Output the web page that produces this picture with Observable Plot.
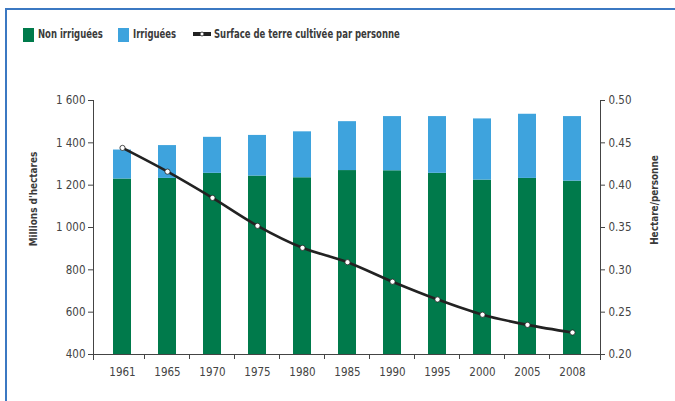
<!DOCTYPE html>
<html>
<head>
<meta charset="utf-8">
<script src="https://cdn.jsdelivr.net/npm/d3@7"></script>
<script src="https://cdn.jsdelivr.net/npm/@observablehq/plot@0.6"></script>
<style>
  html, body { margin: 0; padding: 0; background: #fff; }
  #wrap { position: relative; width: 675px; height: 401px; overflow: hidden; font-family: "DejaVu Sans", sans-serif; font-stretch: condensed; }
  #border { position: absolute; left: 5px; top: 8px; right: -5px; bottom: -5px; border-top: 2px solid #3b78c2; border-left: 2px solid #3b78c2; }
  #legend { position: absolute; left: 0; top: 0; width: 675px; height: 55px; }
  .lg { position: absolute; top: 27px; font-size: 11.5px; font-weight: bold; color: #3a3a3a; line-height: 14px; white-space: nowrap; font-stretch: condensed; transform: scaleX(0.82); transform-origin: 0 50%; }
  .sw { position: absolute; top: 28px; width: 11px; height: 14px; }
  .ax { position: absolute; font-size: 11px; font-weight: bold; color: #3a3a3a; white-space: nowrap; font-stretch: condensed; line-height: 12px; transform: translate(-50%, -50%) rotate(-90deg) scaleX(0.9); }
  #chart { position: absolute; left: 0; top: 55px; }
  #chart svg text { font-stretch: condensed; }
</style>
</head>
<body>
<div id="wrap">
  <div id="border"></div>
  <div id="legend"></div>
  <div id="chart"></div>
</div>
<script>
const years = ["1961","1965","1970","1975","1980","1985","1990","1995","2000","2005","2008"];
const nonIrrigated = [1229, 1232, 1256, 1243, 1235, 1269, 1268, 1256, 1224, 1232, 1219];
const irrigated    = [137, 155, 170, 192, 217, 231, 256, 268, 289, 303, 305];
const haPerPerson  = [0.444, 0.416, 0.385, 0.352, 0.326, 0.309, 0.286, 0.265, 0.247, 0.235, 0.226];
const leftTicks  = [400, 600, 800, 1000, 1200, 1400, 1600];
const rightTicks = [0.20, 0.25, 0.30, 0.35, 0.40, 0.45, 0.50];
const seriesNames = ["Non irriguées", "Irriguées"];
const lineName = "Surface de terre cultivée par personne";
const leftLabel = "Millions d'hectares";
const rightLabel = "Hectare/personne";
const colors = ["#007a4b", "#3ea3dd"];
const yMin = 400;

// right axis maps [0.20, 0.50] onto left [400, 1600]
const toLeft = h => 400 + (h - 0.2) * 4000;
const fromLeft = v => (v - 400) / 4000 + 0.2;

const bars = years.map((y, i) => ({year: y, non: nonIrrigated[i], tot: nonIrrigated[i] + irrigated[i]}));
const linePts = years.map((y, i) => ({year: y, v: toLeft(haPerPerson[i])}));

const W = 675, H = 346, ML = 93, MR = 75, MT = 45, MB = 47;
const pI = 0.6, pO = 0.35;
const fmt = v => d3.format(",")(v).replace(/,/g, " ");
const font = "DejaVu Sans, sans-serif";

// legend + axis titles
const legend = document.getElementById("legend");
legend.innerHTML = `
  <div class="sw" style="left:23px;background:${colors[0]}"></div>
  <div class="lg" style="left:38px">${seriesNames[0]}</div>
  <div class="sw" style="left:118px;background:${colors[1]}"></div>
  <div class="lg" style="left:133px">${seriesNames[1]}</div>
  <svg style="position:absolute;left:192px;top:29px" width="20" height="10"><line x1="1" y1="5" x2="19" y2="5" stroke="#222" stroke-width="4"/><circle cx="10" cy="5" r="2" fill="#fff" stroke="#222" stroke-width="0.8"/></svg>
  <div class="lg" style="left:214px">${lineName}</div>`;
const wrap = document.getElementById("wrap");
wrap.insertAdjacentHTML("beforeend",
  `<div class="ax" style="left:34px;top:199px">${leftLabel}</div>
   <div class="ax" style="left:655px;top:200px">${rightLabel}</div>`);

const plot = Plot.plot({
  width: W, height: H,
  marginLeft: ML, marginRight: MR, marginTop: MT, marginBottom: MB,
  style: {fontFamily: font, fontSize: "11.5px", color: "#444", background: "transparent", overflow: "visible"},
  x: {domain: years, paddingInner: pI, paddingOuter: pO, align: 0.5},
  y: {domain: [yMin, 1600], ticks: leftTicks},
  marks: [
    Plot.barY(bars, {x: "year", y1: yMin, y2: "non", fill: colors[0]}),
    Plot.barY(bars, {x: "year", y1: "non", y2: "tot", fill: colors[1]}),
    Plot.frame({anchor: "left", stroke: "#444", insetBottom: -5}),
    Plot.frame({anchor: "right", stroke: "#444", insetBottom: -5}),
    Plot.frame({anchor: "bottom", stroke: "#444", insetRight: -3}),
    Plot.axisY({anchor: "left", ticks: leftTicks, tickFormat: fmt, tickSize: 5, tickPadding: 3, label: null}),
    Plot.axisY({anchor: "right", ticks: rightTicks.map(toLeft), tickFormat: v => fromLeft(v).toFixed(2), tickSize: 4, tickPadding: 4, label: null}),
    Plot.axisX({tickSize: 0, tickPadding: 13, label: null}),
    Plot.line(linePts, {x: "year", y: "v", stroke: "#222", strokeWidth: 2.6, curve: "catmull-rom"}),
    Plot.dot(linePts, {x: "year", y: "v", r: 2.6, fill: "#fff", stroke: "#222", strokeWidth: 0.8})
  ]
});
document.getElementById("chart").appendChild(plot);

// small ticks between year bands, positioned from Plot's own x and y scales
const sx = plot.scale("x"), sy = plot.scale("y");
const bw = sx.bandwidth, gap = (sx.step ?? (bw / (1 - pI))) - bw;
const y0 = sy.apply(yMin);
d3.select(plot).append("g").attr("stroke", "#444")
  .selectAll("line").data(years.slice(1)).join("line")
  .attr("x1", d => sx.apply(d) - gap / 2).attr("x2", d => sx.apply(d) - gap / 2)
  .attr("y1", y0).attr("y2", y0 + 5);
</script>
</body>
</html>
